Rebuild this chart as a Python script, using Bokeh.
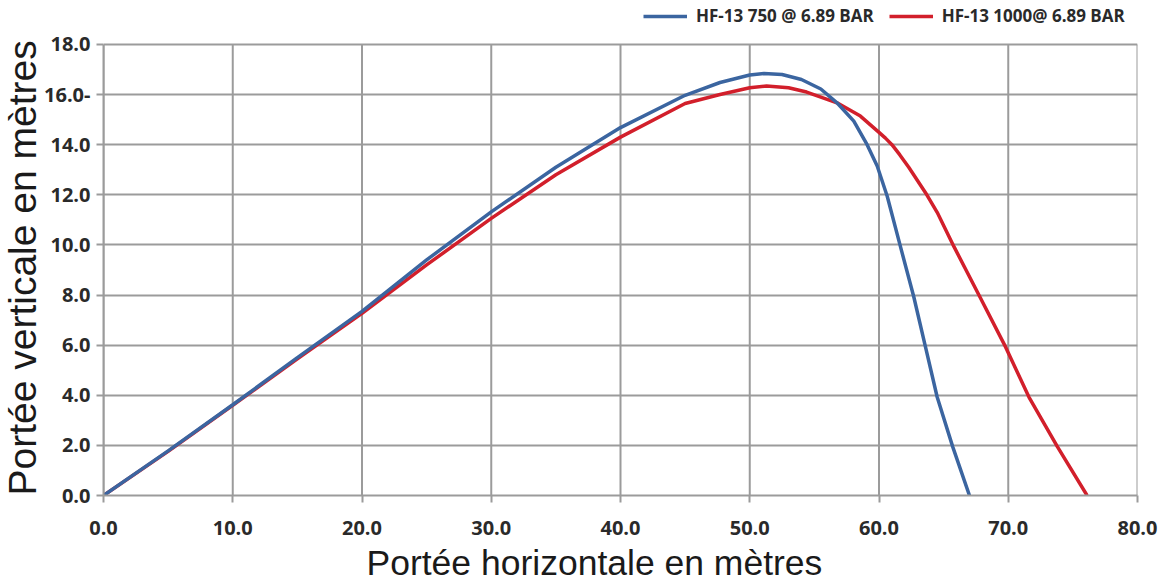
from bokeh.plotting import figure
from bokeh.models import FixedTicker, NumeralTickFormatter, Legend, LegendItem, Range1d, Title
from bokeh.embed import file_html
from bokeh.resources import INLINE

# Data
blue_label = "HF-13 750 @ 6.89 BAR"
blue_x = [0, 5, 10, 15, 20, 25, 30, 35, 40, 45, 47.7, 50, 51.1, 52.5, 54, 55.5, 56.75, 58.05, 59.08, 59.86, 60.63, 61.66, 62.69, 63.6, 64.5, 65.7, 67.0]
blue_y = [0, 1.78, 3.62, 5.5, 7.35, 9.4, 11.32, 13.1, 14.68, 15.97, 16.48, 16.78, 16.84, 16.8, 16.6, 16.22, 15.67, 14.94, 14.0, 13.15, 11.95, 9.93, 7.93, 5.92, 3.93, 1.95, 0]
red_label = "HF-13 1000@ 6.89 BAR"
red_x = [0, 5, 10, 15, 20, 25, 30, 35, 40, 45, 47.7, 50, 51.3, 53, 54.4, 55.5, 56.75, 58.56, 60.0, 60.5, 61.0, 61.6, 62.3, 63.0, 63.7, 64.5, 65.8, 67.8, 69.8, 71.6, 73.8, 76.1]
red_y = [0, 1.76, 3.6, 5.45, 7.27, 9.2, 11.06, 12.8, 14.3, 15.64, 16.0, 16.27, 16.34, 16.27, 16.1, 15.9, 15.67, 15.14, 14.49, 14.26, 14.0, 13.6, 13.1, 12.55, 12.0, 11.3, 9.93, 7.93, 5.92, 3.93, 1.95, 0]
x_ticks = [0, 10, 20, 30, 40, 50, 60, 70, 80]
y_ticks = [0, 2, 4, 6, 8, 10, 12, 14, 16, 18]
x_title = "Portée horizontale en mètres"
y_title = "Portée verticale en mètres"

GRID = "#9b9b9b"
TICKFONT = "Open Sans"
Y_TOP = 18 * 496 / 452  # headroom above the 18.0 line holds the legend

p = figure(width=1158, height=586, output_backend="svg", toolbar_location=None,
           x_range=Range1d(0, 80), y_range=Range1d(0, Y_TOP),
           min_border_left=103, min_border_right=21, min_border_top=0, min_border_bottom=90)
p.outline_line_color = None
p.background_fill_color = "white"

for ax in (p.xaxis[0], p.yaxis[0]):
    ax.axis_line_color = GRID
    ax.axis_line_width = 2
    ax.major_tick_line_color = GRID
    ax.major_tick_line_width = 2
    ax.major_tick_out = 7
    ax.major_tick_in = 0
    ax.minor_tick_line_color = None
    ax.major_label_text_font = TICKFONT
    ax.major_label_text_font_style = "bold"
    ax.major_label_text_font_size = "20px"
    ax.major_label_text_color = "#2a2a2a"
    ax.formatter = NumeralTickFormatter(format="0.0")

p.xaxis[0].ticker = FixedTicker(ticks=x_ticks)
p.yaxis[0].ticker = FixedTicker(ticks=y_ticks)
p.yaxis[0].bounds = (0, 18)
p.yaxis[0].major_label_overrides = {16: "16.0-"}
p.xaxis[0].major_label_standoff = 18
p.yaxis[0].major_label_standoff = 6

p.add_layout(Title(text=y_title, align="left", offset=0, standoff=-5,
                   text_font="Liberation Sans", text_font_style="normal",
                   text_font_size="39px", text_color="#1a1a1a"), "left")
p.add_layout(Title(text=x_title, align="left", offset=263, standoff=7,
                   text_font="Liberation Sans", text_font_style="normal",
                   text_font_size="35.5px", text_color="#1a1a1a"), "below")

p.xgrid.visible = False
p.ygrid.ticker = FixedTicker(ticks=y_ticks)
p.ygrid[0].grid_line_color = GRID
p.ygrid[0].grid_line_width = 2
# vertical grid lines stop at the top tick (18.0), leaving room for the legend
p.segment(x0=x_ticks, y0=[y_ticks[0]] * len(x_ticks), x1=x_ticks, y1=[y_ticks[-1]] * len(x_ticks),
          line_color=GRID, line_width=2, level="underlay")

rb = p.line(red_x, red_y, line_color="#d21f2b", line_width=3.5)
bb = p.line(blue_x, blue_y, line_color="#3b65a0", line_width=3.5)

legend = Legend(items=[LegendItem(label=blue_label, renderers=[bb]),
                       LegendItem(label=red_label, renderers=[rb])],
                orientation="horizontal", location=(540, 468),
                label_text_font=TICKFONT, label_text_font_style="bold",
                label_text_font_size="17px", label_text_color="#2a2a2a",
                glyph_width=44, label_standoff=9, spacing=15, padding=2, margin=0,
                border_line_color=None, background_fill_alpha=0)
p.add_layout(legend, "center")

open("out.html", "w").write(file_html(p, INLINE))
